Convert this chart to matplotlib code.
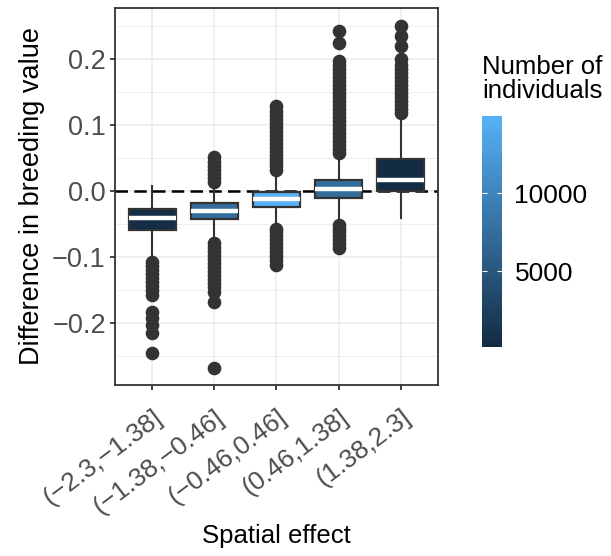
import matplotlib
matplotlib.use("Agg")
import matplotlib.pyplot as plt
from matplotlib.colors import LinearSegmentedColormap, Normalize
from matplotlib.cm import ScalarMappable
import matplotlib.transforms as mtransforms

plt.rcParams['font.family'] = ['Liberation Sans', 'DejaVu Sans']

# data
categories = ["(\u22122.3,\u22121.38]", "(\u22121.38,\u22120.46]", "(\u22120.46,0.46]",
              "(0.46,1.38]", "(1.38,2.3]"]
counts = [500, 7600, 14960, 7400, 150]
q1 = [-0.060, -0.043, -0.024, -0.0115, 0.000]
med = [-0.0415, -0.030, -0.0125, 0.0025, 0.016]
q3 = [-0.028, -0.018, -0.0015, 0.017, 0.049]
whis_lo = [-0.099, -0.075, -0.053, -0.047, -0.0415]
whis_hi = [0.008, 0.011, 0.026, 0.050, 0.111]
fliers = [
    [-0.108, -0.114, -0.120, -0.126, -0.132, -0.138, -0.144, -0.150, -0.157,
     -0.183, -0.192, -0.203, -0.215, -0.245],
    [0.014, 0.020, 0.026, 0.032, 0.038, 0.044, 0.051,
     -0.079, -0.085, -0.091, -0.097, -0.103, -0.109, -0.115, -0.121, -0.127,
     -0.133, -0.139, -0.145, -0.153, -0.168, -0.268],
    [0.031, 0.037, 0.043, 0.049, 0.055, 0.061, 0.067, 0.073, 0.079, 0.085,
     0.091, 0.097, 0.103, 0.109, 0.115, 0.121, 0.129,
     -0.057, -0.063, -0.069, -0.075, -0.081, -0.087, -0.093, -0.099, -0.105, -0.112],
    [0.058, 0.064, 0.070, 0.076, 0.082, 0.088, 0.094, 0.100, 0.106, 0.112,
     0.118, 0.124, 0.130, 0.136, 0.142, 0.148, 0.154, 0.160, 0.166, 0.172,
     0.178, 0.184, 0.190, 0.197, 0.224, 0.242,
     -0.051, -0.057, -0.063, -0.069, -0.075, -0.081, -0.087],
    [0.118, 0.124, 0.130, 0.136, 0.142, 0.148, 0.154, 0.160, 0.166, 0.172,
     0.178, 0.184, 0.190, 0.200, 0.219, 0.234, 0.250],
]

cmap = LinearSegmentedColormap.from_list("gg", ["#132B43", "#56B1F7"])
norm = Normalize(min(counts), max(counts))

fig = plt.figure(figsize=(6.11, 5.56), dpi=100)
ax = fig.add_axes([0.1882, 0.3076, 0.5286, 0.678])

stats = []
for i in range(len(categories)):
    stats.append(dict(med=med[i], q1=q1[i], q3=q3[i], whislo=whis_lo[i],
                      whishi=whis_hi[i], fliers=fliers[i]))

ax.axhline(0, color="black", lw=1.8, dashes=(5, 2.5), zorder=2)
bp = ax.bxp(stats, positions=range(1, 6), widths=0.75, showcaps=False, patch_artist=True,
            boxprops=dict(edgecolor="#333333", linewidth=1.6),
            whiskerprops=dict(color="#333333", linewidth=1.5),
            medianprops=dict(color="white", linewidth=3.2, solid_capstyle="butt"),
            flierprops=dict(marker="o", markerfacecolor="#333333", markeredgecolor="#333333",
                            markersize=8.8, linestyle="none"))
for patch, c in zip(bp["boxes"], counts):
    patch.set_facecolor(cmap(norm(c)))
    patch.set_zorder(3)
for m in bp["medians"]:
    m.set_zorder(4)

ax.set_xlim(0.4, 5.6)
ax.set_ylim(-0.294, 0.277)
ax.set_yticks([-0.2, -0.1, 0.0, 0.1, 0.2])
ax.set_yticklabels(["\u22120.2", "\u22120.1", "0.0", "0.1", "0.2"])
ax.set_yticks([-0.25, -0.15, -0.05, 0.05, 0.15, 0.25], minor=True)
ax.set_xticks(range(1, 6))
ax.set_xticklabels(categories, rotation=37, ha="right", va="top", rotation_mode="anchor")
offset = mtransforms.ScaledTranslation(13 / 100, 0, fig.dpi_scale_trans)
for lab in ax.get_xticklabels():
    lab.set_transform(lab.get_transform() + offset)

ax.grid(True, which="major", color="#EBEBEB", lw=1.1, zorder=0)
ax.grid(True, which="minor", axis="y", color="#EBEBEB", lw=0.6, zorder=0)
ax.set_axisbelow(True)
ax.tick_params(which="major", length=3.6, width=1.3, color="#333333", labelsize=19.5,
               labelcolor="#4D4D4D", pad=3)
ax.tick_params(axis="x", which="major", pad=11, labelsize=19)
ax.tick_params(which="minor", length=0)
for s in ax.spines.values():
    s.set_color("#333333")
    s.set_linewidth(1.3)

ax.set_ylabel("Difference in breeding value", fontsize=19.5, labelpad=5)
fig.text(0.4525, 0.036, "Spatial effect", fontsize=18.5, ha="center", va="center")

cax = fig.add_axes([0.7889, 0.3759, 0.0327, 0.4155])
cb = fig.colorbar(ScalarMappable(norm=norm, cmap=cmap), cax=cax)
cb.outline.set_visible(False)
cb.set_ticks([5000, 10000])
cb.ax.minorticks_off()
cb.ax.tick_params(axis="y", which="major", direction="in", left=True, right=True,
                  color="white", length=3.5, width=0.8, labelsize=19, pad=9)
fig.text(0.7889, 0.8156, "Number of\nindividuals", fontsize=18.5, ha="left", va="bottom",
         linespacing=0.95)

fig.savefig("out.png", dpi=100)
